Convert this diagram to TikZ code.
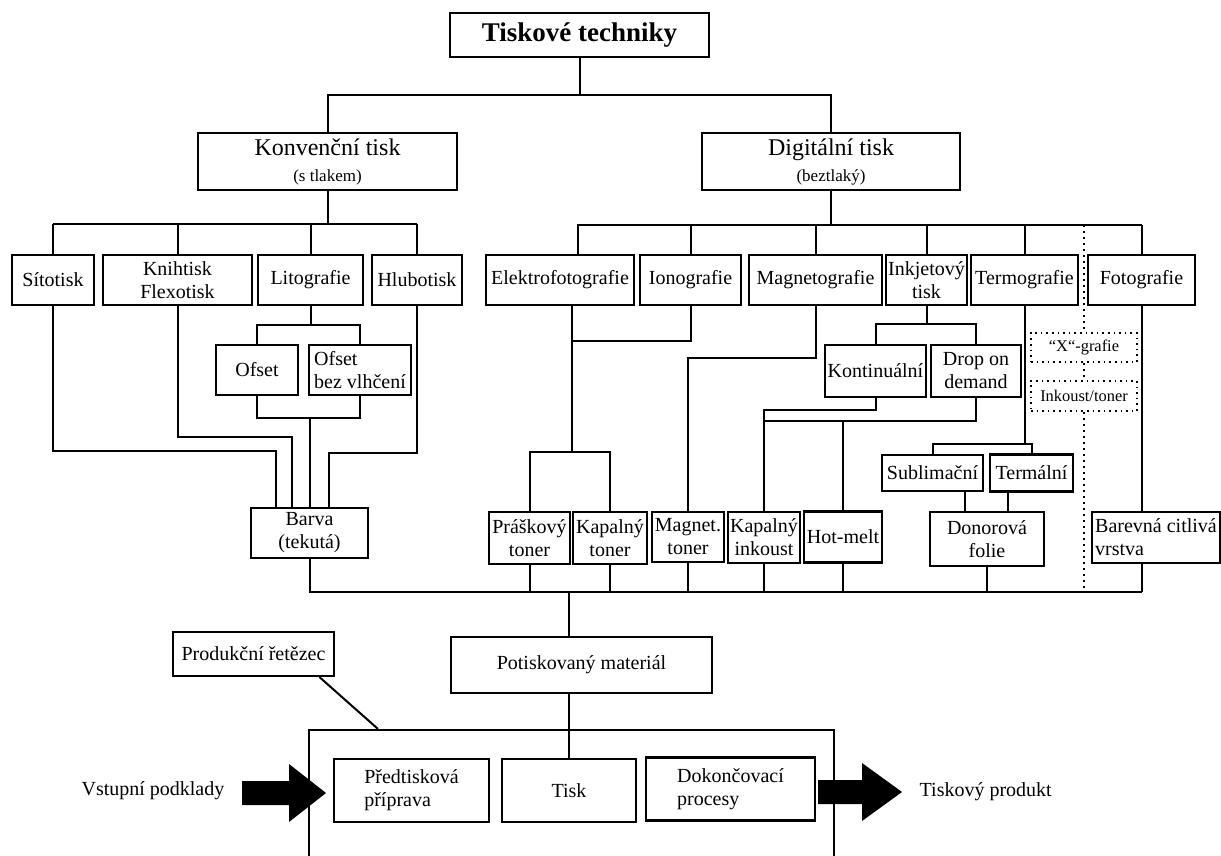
\documentclass[tikz,border=0pt]{standalone}
\usepackage{fontspec}
\setmainfont{Liberation Serif}
\usepackage{tikz}
\usetikzlibrary{positioning, calc}

\begin{document}
\begin{tikzpicture}[
    x=0.5pt, y=-0.5pt,
    line width=1pt,
    box/.style={draw, rectangle, line width=1.1pt, inner sep=1pt, align=center, font=\fontsize{10}{11.5}\selectfont},
    level/.style={box, minimum height=25pt},
    dotbox/.style={draw, dotted, line width=0.8pt, inner sep=1pt, font=\fontsize{8.2}{9}\selectfont},
    label/.style={font=\fontsize{10}{12}\selectfont}
]
\clip (0,0) rectangle (1221,856);

% Top: title and the two branches
\node[box, minimum width=129.5pt, minimum height=22pt, font=\fontsize{13.5}{16}\selectfont\bfseries] (title) at (579.5,35) {Tiskové techniky};
\node[box, minimum width=129.5pt, minimum height=28.5pt, font=\fontsize{12}{13}\selectfont] (konv) at (327.5,161.5) {Konvenční tisk\\{\fontsize{8.5}{10}\selectfont (s tlakem)}};
\node[box, minimum width=129pt, minimum height=28.5pt, font=\fontsize{12}{13}\selectfont] (digit) at (831,161.5) {Digitální tisk\\{\fontsize{8.5}{10}\selectfont (beztlaký)}};

% Row of techniques
\node[level, minimum width=41pt] (sito) at (53,280) {Sítotisk};
\node[level, minimum width=74.5pt] (knih) at (177.5,280) {Knihtisk\\Flexotisk};
\node[level, minimum width=52.5pt] (lito) at (310.5,280) {Litografie};
\node[level, minimum width=45pt] (hlubo) at (417,280) {Hlubotisk};
\node[level, minimum width=74pt] (elektro) at (560,280) {Elektrofotografie};
\node[level, minimum width=50.5pt] (iono) at (690.5,280) {Ionografie};
\node[level, minimum width=66.5pt] (magneto) at (815.5,280) {Magnetografie};
\node[level, minimum width=40.5pt] (inkjet) at (926.5,280) {Inkjetový\\tisk};
\node[level, minimum width=53.5pt] (termo) at (1024.5,280) {Termografie};
\node[level, minimum width=53.5pt] (foto) at (1141.5,280) {Fotografie};

% Sub-techniques
\node[level, minimum width=41pt] (ofset) at (257,370) {Ofset};
\node[level, minimum width=51pt, align=left] (ofsetbv) at (360,370) {Ofset\\bez vlhčení};
\node[box, minimum width=50.5pt, minimum height=26pt] (kont) at (875.5,371) {Kontinuální};
\node[box, minimum width=45pt, minimum height=26pt] (dod) at (976,371) {Drop on\\demand};
\node[box, minimum width=50.5pt, minimum height=18pt] (subl) at (932.5,473) {Sublimační};
\node[box, minimum width=41.5pt, minimum height=18.5pt] (term) at (1031.5,473) {Termální};
\node[dotbox, minimum width=53pt, minimum height=14.5pt] (xgraf) at (1084,347.5) {“X“-grafie};
\node[dotbox, minimum width=53pt, minimum height=15pt] (inkt) at (1084,396) {Inkoust/toner};

% Colourants
\node[level, minimum width=58.5pt] (barva) at (309.5,533) {Barva\\(tekutá)};
\node[box, minimum width=40.5pt, minimum height=26pt] (prask) at (529.5,538) {Práškový\\toner};
\node[box, minimum width=37pt, minimum height=26pt] (kaptoner) at (610,538) {Kapalný\\toner};
\node[level, minimum width=36pt] (magtoner) at (688,537) {Magnet.\\toner};
\node[box, minimum width=36pt, minimum height=25.5pt] (kapink) at (764,537.5) {Kapalný\\inkoust};
\node[box, minimum width=39pt, minimum height=25.5pt] (hotmelt) at (843,537) {Hot-melt};
\node[box, minimum width=57pt, minimum height=27pt] (donor) at (987,539) {Donorová\\folie};
\node[box, minimum width=64pt, minimum height=25.5pt, align=left] (barevna) at (1156,537.5) {Barevná citlivá\\vrstva};

% Production chain
\node[box, minimum width=130.5pt, minimum height=28pt] (potisk) at (581.5,665) {Potiskovaný materiál};
\node[box, minimum width=80.5pt, minimum height=22pt] (prod) at (253.5,654) {Produkční řetězec};
\node[draw, line width=1.1pt, minimum width=262.5pt, minimum height=80pt] (chain) at (571.5,810) {};
\node[box, minimum width=77.5pt, minimum height=31.5pt, align=left] (predtisk) at (411.5,790.5) {Předtisková\\příprava};
\node[box, minimum width=67pt, minimum height=31.5pt] (tisk) at (569,790.5) {Tisk};
\node[box, minimum width=84.5pt, minimum height=31.5pt, align=left] (dokon) at (730.5,789) {Dokončovací\\procesy};
\node[label, anchor=east] (vstup) at (232,791) {Vstupní podklady};
\node[label, anchor=west] (produkt) at (912,792) {Tiskový produkt};

% Tree connections
\draw (title.south) -- ++(0,37) coordinate (topbus);
\draw (konv.north) -- (konv.north |- topbus) -| (digit.north);
\draw (konv.south) -- ++(0,33) coordinate (kbus);
\draw (sito.north |- kbus) -- (hlubo.north |- kbus);
\foreach \n in {sito,knih,lito,hlubo}
    \draw (\n.north) -- (\n.north |- kbus);
\draw (digit.south) -- ++(0,34) coordinate (dbus);
\draw ([xshift=9pt]elektro.north) -- ([xshift=9pt]elektro.north |- dbus) -- (foto.north |- dbus);
\foreach \n in {iono,magneto,inkjet,termo,foto}
    \draw (\n.north) -- (\n.north |- dbus);

% Conventional printing to ink
\draw (lito.south) -- ++(0,19) coordinate (lbus);
\draw (ofset.north) |- (lbus) -| (ofsetbv.north);
\draw (ofset.south) -- ++(0,22) coordinate (obus) -| (ofsetbv.south);
\draw (obus -| barva.north) -- (barva.north);
\draw (sito.south) -- ++(0,145) -| ([xshift=-17pt]barva.north);
\draw (knih.south) -- ++(0,131) -| ([xshift=-9pt]barva.north);
\draw (hlubo.south) -- ++(0,147) -| ([xshift=9.5pt]barva.north);

% Digital printing to toners and inks
\draw ([xshift=6pt]elektro.south) -- ++(0,146) coordinate (ebus);
\path ([xshift=6pt]elektro.south) ++(0,35) coordinate (ejoin);
\draw (iono.south) |- (ejoin);
\draw (prask.north) |- (ebus) -| (kaptoner.north);
\draw (magneto.south) -- ++(0,52) -| (magtoner.north);
\draw (inkjet.south) -- ++(0,18) coordinate (ibus);
\draw (kont.north) |- (ibus) -| (dod.north);
\draw (kont.south) -- ++(0,12) -| (kapink.north);
\draw (dod.south) -- ++(0,23) coordinate (dodbus) -- (dodbus -| kapink.north);
\draw (hotmelt.north) -- (hotmelt.north |- dodbus);
\draw (termo.south) -- ++(0,138) coordinate (tbus);
\draw (subl.north) |- (tbus) -| (term.north);
\draw ([xshift=16pt]subl.south) -- ([xshift=16pt]subl.south |- donor.north);
\draw ([xshift=-12pt]term.south) -- ([xshift=-12pt]term.south |- donor.north);
\draw (foto.south) -- (foto.south |- barevna.north);
\draw[dotted] (xgraf.north |- dbus) -- (xgraf.north);
\draw[dotted] (xgraf.south) -- (inkt.north);

% Bottom bus
\coordinate (bbus) at (569,592);
\draw[dotted] (inkt.south) -- (inkt.south |- bbus);
\draw (barva.south) -- (barva.south |- bbus) -- (foto.south |- bbus);
\foreach \n in {prask,kaptoner,magtoner,kapink,hotmelt,donor}
    \draw (\n.south) -- (\n.south |- bbus);
\draw (foto.south |- barevna.south) -- (foto.south |- bbus);
\draw (bbus) -- (bbus |- potisk.north);
\draw (bbus |- potisk.south) -- (tisk.north);
\draw ([xshift=33pt]prod.south) -- ([xshift=35pt]chain.north west);

% Block arrows
\coordinate (intip) at (326,793);
\coordinate (outtip) at (902,792);
\fill (intip) -- ++(-37,-29) -- ++(0,17) -- ++(-47,0) -- ++(0,24) -- ++(47,0) -- ++(0,17) -- cycle;
\fill (outtip) -- ++(-40,-29) -- ++(0,17) -- ++(-44,0) -- ++(0,24) -- ++(44,0) -- ++(0,17) -- cycle;

\end{tikzpicture}
\end{document}
